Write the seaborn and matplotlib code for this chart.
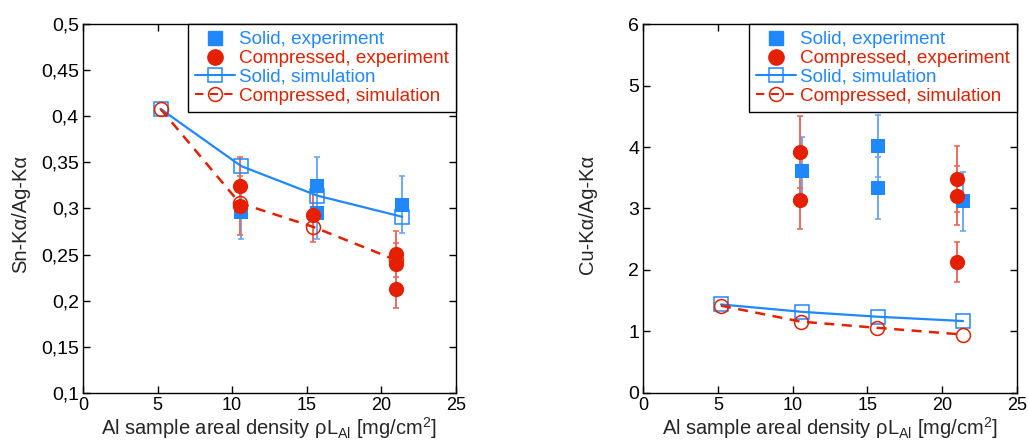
import matplotlib
matplotlib.use("Agg")
import matplotlib.pyplot as plt
from matplotlib.lines import Line2D
import seaborn as sns
import pandas as pd

# ---------------- data ----------------
# Left panel: Sn-Ka / Ag-Ka
sn_solid_sim_x = [5.2, 10.6, 15.7, 21.4]
sn_solid_sim_y = [0.408, 0.346, 0.314, 0.291]
sn_comp_sim_x = [5.2, 10.5, 15.45, 21.0]
sn_comp_sim_y = [0.408, 0.306, 0.280, 0.244]
sn_solid_exp_x = [10.6, 15.7, 15.7, 21.4]
sn_solid_exp_y = [0.296, 0.324, 0.295, 0.304]
sn_solid_exp_err = [0.029, 0.032, 0.028, 0.031]
sn_comp_exp_x = [10.5, 10.5, 15.45, 20.96, 20.96, 20.96]
sn_comp_exp_y = [0.324, 0.303, 0.293, 0.251, 0.240, 0.213]
sn_comp_exp_err = [0.032, 0.032, 0.029, 0.025, 0.023, 0.021]

# Right panel: Cu-Ka / Ag-Ka
cu_solid_sim_x = [5.2, 10.6, 15.7, 21.4]
cu_solid_sim_y = [1.44, 1.32, 1.24, 1.17]
cu_comp_sim_x = [5.2, 10.55, 15.65, 21.4]
cu_comp_sim_y = [1.42, 1.16, 1.06, 0.95]
cu_solid_exp_x = [10.65, 15.7, 15.7, 21.4]
cu_solid_exp_y = [3.61, 4.02, 3.33, 3.12]
cu_solid_exp_err = [0.55, 0.50, 0.50, 0.48]
cu_comp_exp_x = [10.5, 10.5, 20.97, 20.97, 20.97]
cu_comp_exp_y = [3.92, 3.14, 3.48, 3.21, 2.13]
cu_comp_exp_err = [0.58, 0.47, 0.53, 0.48, 0.32]

x_ticks = [0, 5, 10, 15, 20, 25]
sn_yticks = [0.1, 0.15, 0.2, 0.25, 0.3, 0.35, 0.4, 0.45, 0.5]
sn_yticklabels = ["0,1", "0,15", "0,2", "0,25", "0,3", "0,35", "0,4", "0,45", "0,5"]
cu_yticks = [0, 1, 2, 3, 4, 5, 6]
cu_yticklabels = ["0", "1", "2", "3", "4", "5", "6"]

labels = ["Solid, experiment", "Compressed, experiment",
          "Solid, simulation", "Compressed, simulation"]
xlabel = "Al sample areal density ρL$_{\\mathrm{Al}}$ [mg/cm$^{2}$]"

BLUE = "#1f88ff"
RED = "#e42000"
BLUE_ERR = "#6aaaf5"
RED_ERR = "#ee6a5a"

# ---------------- style ----------------
sns.set_style("ticks")
plt.rcParams["font.family"] = ["Liberation Sans", "DejaVu Sans"]
plt.rcParams["mathtext.fontset"] = "custom"
plt.rcParams["mathtext.rm"] = "Liberation Sans"
plt.rcParams["mathtext.it"] = "Liberation Sans:italic"
plt.rcParams["font.size"] = 13

fig = plt.figure(figsize=(10.28, 4.48), dpi=100)
axL = fig.add_axes([0.0807, 0.1228, 0.3628, 0.8236])
axR = fig.add_axes([0.6258, 0.1228, 0.3633, 0.8236])


def panel(ax, ssx, ssy, csx, csy, sex, sey, see, cex, cey, cee,
          yticks, yticklabels, ylim, ylabel, ylab_x):
    # error bars
    ax.errorbar(sex, sey, yerr=see, fmt="none", ecolor=BLUE_ERR,
                elinewidth=1.4, capsize=2.5, capthick=1.2, zorder=2)
    ax.errorbar(cex, cey, yerr=cee, fmt="none", ecolor=RED_ERR,
                elinewidth=1.4, capsize=2.5, capthick=1.2, zorder=2)
    # simulations
    dss = pd.DataFrame({"x": ssx, "y": ssy})
    dcs = pd.DataFrame({"x": csx, "y": csy})
    sns.lineplot(data=dss, x="x", y="y", ax=ax, color=BLUE, lw=1.6,
                 marker="s", markersize=10, markerfacecolor="none",
                 markeredgecolor=BLUE, markeredgewidth=1.1, zorder=3,
                 sort=False, estimator=None)
    sns.lineplot(data=dcs, x="x", y="y", ax=ax, color=RED, lw=1.8,
                 dashes=(4, 3), marker="o", markersize=10,
                 markerfacecolor="none", markeredgecolor=RED,
                 markeredgewidth=1.1, zorder=3, sort=False, estimator=None)
    # experiments
    dse = pd.DataFrame({"x": sex, "y": sey})
    dce = pd.DataFrame({"x": cex, "y": cey})
    sns.scatterplot(data=dse, x="x", y="y", ax=ax, color=BLUE, marker="s",
                    s=100, linewidth=0, zorder=4)
    sns.scatterplot(data=dce, x="x", y="y", ax=ax, color=RED, marker="o",
                    s=120, linewidth=0, zorder=5)

    ax.set_xlim(0, 25)
    ax.set_ylim(*ylim)
    ax.set_xticks(x_ticks)
    ax.set_xticklabels([str(t) for t in x_ticks])
    ax.set_yticks(yticks)
    ax.set_yticklabels(yticklabels)
    ax.tick_params(direction="in", length=5, width=1, top=True, right=True,
                   pad=3, colors="black")
    ax.tick_params(axis="x", labelsize=13)
    ax.tick_params(axis="y", labelsize=14)
    for sp in ax.spines.values():
        sp.set_visible(True)
        sp.set_linewidth(1.0)
        sp.set_color("black")
    ax.set_xlabel(xlabel, fontsize=14.5, labelpad=1)
    ax.set_ylabel(ylabel, fontsize=14.5)
    ax.yaxis.set_label_coords(ylab_x, 0.485)

    handles = [
        Line2D([], [], ls="none", marker="s", ms=10, color=BLUE, mec=BLUE),
        Line2D([], [], ls="none", marker="o", ms=11, color=RED, mec=RED),
        Line2D([], [], ls="-", lw=1.5, marker="s", ms=10, color=BLUE,
               mfc="none", mec=BLUE, mew=1.1),
        Line2D([], [], ls=(0, (4, 3)), lw=1.5, marker="o", ms=10, color=RED,
               mfc="none", mec=RED, mew=1.1),
    ]
    leg = ax.legend(handles, labels, loc="upper right", borderaxespad=0,
                    frameon=True, fancybox=False, framealpha=1,
                    edgecolor="black", fontsize=13.6, labelspacing=0.08,
                    handlelength=2.1, handletextpad=0.2, borderpad=0.38)
    leg.get_frame().set_linewidth(1.0)
    leg.set_zorder(10)
    for txt, c in zip(leg.get_texts(), [BLUE, RED, BLUE, RED]):
        txt.set_color(c)


panel(axL, sn_solid_sim_x, sn_solid_sim_y, sn_comp_sim_x, sn_comp_sim_y,
      sn_solid_exp_x, sn_solid_exp_y, sn_solid_exp_err,
      sn_comp_exp_x, sn_comp_exp_y, sn_comp_exp_err,
      sn_yticks, sn_yticklabels, (0.1, 0.5), "Sn-Kα/Ag-Kα", -0.142)
panel(axR, cu_solid_sim_x, cu_solid_sim_y, cu_comp_sim_x, cu_comp_sim_y,
      cu_solid_exp_x, cu_solid_exp_y, cu_solid_exp_err,
      cu_comp_exp_x, cu_comp_exp_y, cu_comp_exp_err,
      cu_yticks, cu_yticklabels, (0, 6), "Cu-Kα/Ag-Kα", -0.124)

fig.savefig("out.png", dpi=100)
